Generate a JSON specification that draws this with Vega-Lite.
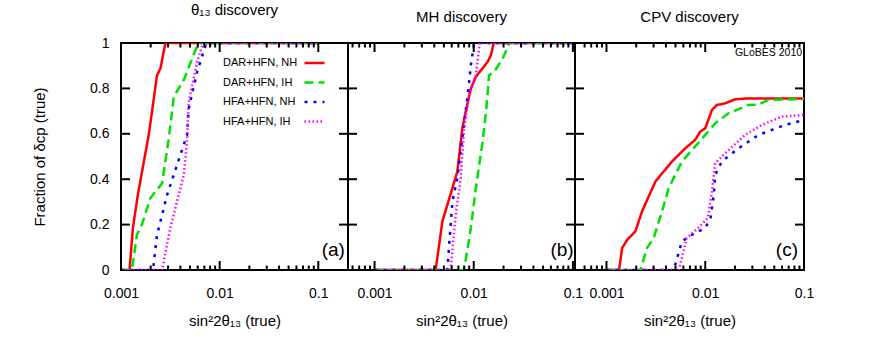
{
  "$schema": "https://vega.github.io/schema/vega-lite/v6.json",
  "padding": {"left": 31, "top": 2, "right": 5, "bottom": 5},
  "bounds": "flush",
  "spacing": 0,
  "config": {
    "font": "Liberation Sans",
    "view": {"stroke": "#000", "strokeWidth": 2},
    "axis": {"grid": false, "domain": false, "ticks": false, "labelFontSize": 14, "titleFontSize": 15, "titleFontWeight": "normal", "labelColor": "#000", "titleColor": "#000", "labelFlush": false, "labelOverlap": false, "labelPadding": 12, "titlePadding": 13},
    "tick": {"color": "#000", "thickness": 2, "opacity": 1},
    "title": {"fontSize": 15, "fontWeight": "normal", "color": "#000", "baseline": "bottom", "offset": 18},
    "legend": {"orient": "none", "legendX": 99, "legendY": 8.5, "labelFontSize": 11, "labelColor": "#000", "symbolType": "stroke", "symbolSize": 400, "symbolStrokeWidth": 2.5, "rowPadding": 2.5, "padding": 0, "labelOffset": -103, "symbolOffset": 83}
  },
  "datasets": {
    "xmaj1": [{"v": 0.001}, {"v": 0.01}, {"v": 0.1}],
    "xmin1": [{"v": 0.002}, {"v": 0.003}, {"v": 0.004}, {"v": 0.005}, {"v": 0.006}, {"v": 0.007}, {"v": 0.008}, {"v": 0.009}, {"v": 0.02}, {"v": 0.03}, {"v": 0.04}, {"v": 0.05}, {"v": 0.06}, {"v": 0.07}, {"v": 0.08}, {"v": 0.09}],
    "xmaj2": [{"v": 0.001}, {"v": 0.01}],
    "xmin2": [{"v": 0.0006}, {"v": 0.0007}, {"v": 0.0008}, {"v": 0.0009}, {"v": 0.002}, {"v": 0.003}, {"v": 0.004}, {"v": 0.005}, {"v": 0.006}, {"v": 0.007}, {"v": 0.008}, {"v": 0.009}, {"v": 0.02}, {"v": 0.03}, {"v": 0.04}, {"v": 0.05}, {"v": 0.06}, {"v": 0.07}, {"v": 0.08}, {"v": 0.09}],
    "yt": [{"v": 0.2}, {"v": 0.4}, {"v": 0.6}, {"v": 0.8}],
    "a": [
      {"s": "DAR+HFN, NH", "x": 0.001, "y": 0}, {"s": "DAR+HFN, NH", "x": 0.00122, "y": 0}, {"s": "DAR+HFN, NH", "x": 0.00132, "y": 0.185}, {"s": "DAR+HFN, NH", "x": 0.00148, "y": 0.33}, {"s": "DAR+HFN, NH", "x": 0.00191, "y": 0.595}, {"s": "DAR+HFN, NH", "x": 0.00232, "y": 0.858}, {"s": "DAR+HFN, NH", "x": 0.00251, "y": 0.888}, {"s": "DAR+HFN, NH", "x": 0.00282, "y": 1}, {"s": "DAR+HFN, NH", "x": 0.1, "y": 1},
      {"s": "DAR+HFN, IH", "x": 0.001, "y": 0}, {"s": "DAR+HFN, IH", "x": 0.00129, "y": 0}, {"s": "DAR+HFN, IH", "x": 0.00145, "y": 0.155}, {"s": "DAR+HFN, IH", "x": 0.00163, "y": 0.2}, {"s": "DAR+HFN, IH", "x": 0.00198, "y": 0.316}, {"s": "DAR+HFN, IH", "x": 0.00261, "y": 0.382}, {"s": "DAR+HFN, IH", "x": 0.00305, "y": 0.58}, {"s": "DAR+HFN, IH", "x": 0.00343, "y": 0.763}, {"s": "DAR+HFN, IH", "x": 0.00433, "y": 0.837}, {"s": "DAR+HFN, IH", "x": 0.00567, "y": 0.968}, {"s": "DAR+HFN, IH", "x": 0.00614, "y": 1}, {"s": "DAR+HFN, IH", "x": 0.1, "y": 1},
      {"s": "HFA+HFN, NH", "x": 0.001, "y": 0}, {"s": "HFA+HFN, NH", "x": 0.00211, "y": 0}, {"s": "HFA+HFN, NH", "x": 0.00232, "y": 0.155}, {"s": "HFA+HFN, NH", "x": 0.00293, "y": 0.33}, {"s": "HFA+HFN, NH", "x": 0.0037, "y": 0.463}, {"s": "HFA+HFN, NH", "x": 0.00467, "y": 0.595}, {"s": "HFA+HFN, NH", "x": 0.00486, "y": 0.712}, {"s": "HFA+HFN, NH", "x": 0.00591, "y": 0.873}, {"s": "HFA+HFN, NH", "x": 0.00734, "y": 1}, {"s": "HFA+HFN, NH", "x": 0.1, "y": 1},
      {"s": "HFA+HFN, IH", "x": 0.001, "y": 0}, {"s": "HFA+HFN, IH", "x": 0.00261, "y": 0}, {"s": "HFA+HFN, IH", "x": 0.00316, "y": 0.185}, {"s": "HFA+HFN, IH", "x": 0.00433, "y": 0.419}, {"s": "HFA+HFN, IH", "x": 0.00467, "y": 0.566}, {"s": "HFA+HFN, IH", "x": 0.00486, "y": 0.741}, {"s": "HFA+HFN, IH", "x": 0.00591, "y": 0.917}, {"s": "HFA+HFN, IH", "x": 0.0068, "y": 1}, {"s": "HFA+HFN, IH", "x": 0.1, "y": 1}
    ],
    "b": [
      {"s": "DAR+HFN, NH", "x": 0.001, "y": 0}, {"s": "DAR+HFN, NH", "x": 0.00413, "y": 0}, {"s": "DAR+HFN, NH", "x": 0.00483, "y": 0.214}, {"s": "DAR+HFN, NH", "x": 0.00609, "y": 0.36}, {"s": "DAR+HFN, NH", "x": 0.00684, "y": 0.434}, {"s": "DAR+HFN, NH", "x": 0.00768, "y": 0.624}, {"s": "DAR+HFN, NH", "x": 0.0083, "y": 0.697}, {"s": "DAR+HFN, NH", "x": 0.00935, "y": 0.8}, {"s": "DAR+HFN, NH", "x": 0.0105, "y": 0.851}, {"s": "DAR+HFN, NH", "x": 0.0138, "y": 0.917}, {"s": "DAR+HFN, NH", "x": 0.0149, "y": 0.946}, {"s": "DAR+HFN, NH", "x": 0.0159, "y": 1}, {"s": "DAR+HFN, NH", "x": 0.1, "y": 1},
      {"s": "DAR+HFN, IH", "x": 0.001, "y": 0}, {"s": "DAR+HFN, IH", "x": 0.008, "y": 0}, {"s": "DAR+HFN, IH", "x": 0.00935, "y": 0.185}, {"s": "DAR+HFN, IH", "x": 0.0105, "y": 0.36}, {"s": "DAR+HFN, IH", "x": 0.0123, "y": 0.566}, {"s": "DAR+HFN, IH", "x": 0.0133, "y": 0.697}, {"s": "DAR+HFN, IH", "x": 0.0143, "y": 0.858}, {"s": "DAR+HFN, IH", "x": 0.0161, "y": 0.873}, {"s": "DAR+HFN, IH", "x": 0.0196, "y": 0.932}, {"s": "DAR+HFN, IH", "x": 0.0229, "y": 1}, {"s": "DAR+HFN, IH", "x": 0.1, "y": 1},
      {"s": "HFA+HFN, NH", "x": 0.001, "y": 0}, {"s": "HFA+HFN, NH", "x": 0.00542, "y": 0}, {"s": "HFA+HFN, NH", "x": 0.00609, "y": 0.302}, {"s": "HFA+HFN, NH", "x": 0.00684, "y": 0.404}, {"s": "HFA+HFN, NH", "x": 0.00768, "y": 0.58}, {"s": "HFA+HFN, NH", "x": 0.00886, "y": 0.8}, {"s": "HFA+HFN, NH", "x": 0.00935, "y": 0.902}, {"s": "HFA+HFN, NH", "x": 0.0101, "y": 1}, {"s": "HFA+HFN, NH", "x": 0.1, "y": 1},
      {"s": "HFA+HFN, IH", "x": 0.001, "y": 0}, {"s": "HFA+HFN, IH", "x": 0.00585, "y": 0}, {"s": "HFA+HFN, IH", "x": 0.00658, "y": 0.243}, {"s": "HFA+HFN, IH", "x": 0.00739, "y": 0.404}, {"s": "HFA+HFN, IH", "x": 0.008, "y": 0.624}, {"s": "HFA+HFN, IH", "x": 0.009, "y": 0.771}, {"s": "HFA+HFN, IH", "x": 0.0105, "y": 0.858}, {"s": "HFA+HFN, IH", "x": 0.0115, "y": 1}, {"s": "HFA+HFN, IH", "x": 0.1, "y": 1}
    ],
    "c": [
      {"s": "DAR+HFN, NH", "x": 0.001, "y": 0}, {"s": "DAR+HFN, NH", "x": 0.00134, "y": 0}, {"s": "DAR+HFN, NH", "x": 0.00144, "y": 0.097}, {"s": "DAR+HFN, NH", "x": 0.00162, "y": 0.133}, {"s": "DAR+HFN, NH", "x": 0.00196, "y": 0.17}, {"s": "DAR+HFN, NH", "x": 0.00229, "y": 0.258}, {"s": "DAR+HFN, NH", "x": 0.00313, "y": 0.39}, {"s": "DAR+HFN, NH", "x": 0.00461, "y": 0.478}, {"s": "DAR+HFN, NH", "x": 0.00627, "y": 0.536}, {"s": "DAR+HFN, NH", "x": 0.0079, "y": 0.573}, {"s": "DAR+HFN, NH", "x": 0.00891, "y": 0.61}, {"s": "DAR+HFN, NH", "x": 0.01, "y": 0.624}, {"s": "DAR+HFN, NH", "x": 0.0117, "y": 0.705}, {"s": "DAR+HFN, NH", "x": 0.0131, "y": 0.727}, {"s": "DAR+HFN, NH", "x": 0.0159, "y": 0.734}, {"s": "DAR+HFN, NH", "x": 0.0201, "y": 0.752}, {"s": "DAR+HFN, NH", "x": 0.0273, "y": 0.756}, {"s": "DAR+HFN, NH", "x": 0.1, "y": 0.756},
      {"s": "DAR+HFN, IH", "x": 0.001, "y": 0}, {"s": "DAR+HFN, IH", "x": 0.00221, "y": 0}, {"s": "DAR+HFN, IH", "x": 0.00257, "y": 0.097}, {"s": "DAR+HFN, IH", "x": 0.003, "y": 0.14}, {"s": "DAR+HFN, IH", "x": 0.00365, "y": 0.258}, {"s": "DAR+HFN, IH", "x": 0.00426, "y": 0.36}, {"s": "DAR+HFN, IH", "x": 0.0058, "y": 0.478}, {"s": "DAR+HFN, IH", "x": 0.0079, "y": 0.544}, {"s": "DAR+HFN, IH", "x": 0.01, "y": 0.595}, {"s": "DAR+HFN, IH", "x": 0.0126, "y": 0.646}, {"s": "DAR+HFN, IH", "x": 0.0172, "y": 0.69}, {"s": "DAR+HFN, IH", "x": 0.0273, "y": 0.727}, {"s": "DAR+HFN, IH", "x": 0.0346, "y": 0.729}, {"s": "DAR+HFN, IH", "x": 0.0436, "y": 0.749}, {"s": "DAR+HFN, IH", "x": 0.1, "y": 0.753},
      {"s": "HFA+HFN, NH", "x": 0.001, "y": 0}, {"s": "HFA+HFN, NH", "x": 0.0048, "y": 0}, {"s": "HFA+HFN, NH", "x": 0.0058, "y": 0.126}, {"s": "HFA+HFN, NH", "x": 0.0073, "y": 0.155}, {"s": "HFA+HFN, NH", "x": 0.01, "y": 0.185}, {"s": "HFA+HFN, NH", "x": 0.0113, "y": 0.229}, {"s": "HFA+HFN, NH", "x": 0.0122, "y": 0.331}, {"s": "HFA+HFN, NH", "x": 0.0126, "y": 0.419}, {"s": "HFA+HFN, NH", "x": 0.0147, "y": 0.478}, {"s": "HFA+HFN, NH", "x": 0.0217, "y": 0.536}, {"s": "HFA+HFN, NH", "x": 0.0346, "y": 0.595}, {"s": "HFA+HFN, NH", "x": 0.0643, "y": 0.639}, {"s": "HFA+HFN, NH", "x": 0.1, "y": 0.661},
      {"s": "HFA+HFN, IH", "x": 0.001, "y": 0}, {"s": "HFA+HFN, IH", "x": 0.0054, "y": 0}, {"s": "HFA+HFN, IH", "x": 0.0065, "y": 0.14}, {"s": "HFA+HFN, IH", "x": 0.0085, "y": 0.185}, {"s": "HFA+HFN, IH", "x": 0.0106, "y": 0.229}, {"s": "HFA+HFN, IH", "x": 0.0117, "y": 0.346}, {"s": "HFA+HFN, IH", "x": 0.0126, "y": 0.47}, {"s": "HFA+HFN, IH", "x": 0.0159, "y": 0.514}, {"s": "HFA+HFN, IH", "x": 0.0253, "y": 0.595}, {"s": "HFA+HFN, IH", "x": 0.0374, "y": 0.639}, {"s": "HFA+HFN, IH", "x": 0.0596, "y": 0.676}, {"s": "HFA+HFN, IH", "x": 0.1, "y": 0.683}
    ]
  },
  "hconcat": [
    {
      "width": 227, "height": 227,
      "title": "θ₁₃ discovery",
      "resolve": {"axis": {"x": "independent", "y": "independent"}},
      "layer": [
        {"data": {"name": "a"},
         "mark": {"type": "line", "strokeWidth": 2.5, "clip": true},
         "encoding": {
           "x": {"field": "x", "type": "quantitative", "scale": {"type": "log", "domain": [0.001, 0.2], "nice": false}, "axis": {"orient": "bottom", "values": [0.001, 0.01, 0.1], "format": "~g", "labelPadding": 16, "title": "sin²2θ₁₃ (true)"}},
           "y": {"field": "y", "type": "quantitative", "scale": {"domain": [0, 1], "nice": false}, "axis": {"orient": "left", "values": [0, 0.2, 0.4, 0.6, 0.8, 1], "format": "~g", "labelPadding": 12, "titlePadding": 42, "title": "Fraction of δcp (true)"}},
           "color": {"field": "s", "type": "nominal", "scale": {"domain": ["DAR+HFN, NH", "DAR+HFN, IH", "HFA+HFN, NH", "HFA+HFN, IH"], "range": ["#ff0000", "#00e000", "#0000ff", "#ff00ff"]}, "legend": {"title": null}},
           "strokeDash": {"field": "s", "type": "nominal", "scale": {"domain": ["DAR+HFN, NH", "DAR+HFN, IH", "HFA+HFN, NH", "HFA+HFN, IH"], "range": [[1, 0], [9, 5], [3, 6], [1.5, 2.5]]}, "legend": {"title": null}}
         }},
        {"data": {"name": "xmaj1"}, "mark": {"type": "tick", "orient": "vertical", "size": 9},
         "encoding": {"x": {"field": "v", "type": "quantitative", "axis": null}, "y": {"datum": 0.0198, "type": "quantitative", "axis": null}}},
        {"data": {"name": "xmaj1"}, "mark": {"type": "tick", "orient": "vertical", "size": 9},
         "encoding": {"x": {"field": "v", "type": "quantitative", "axis": null}, "y": {"datum": 0.9802, "type": "quantitative", "axis": null}}},
        {"data": {"name": "xmin1"}, "mark": {"type": "tick", "orient": "vertical", "size": 4.5},
         "encoding": {"x": {"field": "v", "type": "quantitative", "axis": null}, "y": {"datum": 0.0099, "type": "quantitative", "axis": null}}},
        {"data": {"name": "xmin1"}, "mark": {"type": "tick", "orient": "vertical", "size": 4.5},
         "encoding": {"x": {"field": "v", "type": "quantitative", "axis": null}, "y": {"datum": 0.9901, "type": "quantitative", "axis": null}}},
        {"data": {"name": "yt"}, "mark": {"type": "tick", "orient": "horizontal", "size": 9},
         "encoding": {"y": {"field": "v", "type": "quantitative", "axis": null}, "x": {"datum": 0.0011107, "type": "quantitative", "axis": null}}},
        {"data": {"name": "yt"}, "mark": {"type": "tick", "orient": "horizontal", "size": 9},
         "encoding": {"y": {"field": "v", "type": "quantitative", "axis": null}, "x": {"datum": 0.18007, "type": "quantitative", "axis": null}}},
        {"data": {"values": [{"t": "(a)"}]},
         "mark": {"type": "text", "fontSize": 19, "color": "#000", "align": "center", "baseline": "middle"},
         "encoding": {
           "x": {"datum": 0.142, "type": "quantitative", "axis": null},
           "y": {"datum": 0.088, "type": "quantitative", "axis": null},
           "text": {"field": "t"}
         }}
      ]
    },
    {
      "width": 227, "height": 227,
      "title": "MH discovery",
      "resolve": {"axis": {"x": "independent", "y": "independent"}},
      "layer": [
        {"data": {"name": "b"},
         "mark": {"type": "line", "strokeWidth": 2.5, "clip": true},
         "encoding": {
           "x": {"field": "x", "type": "quantitative", "scale": {"type": "log", "domain": [0.00054, 0.105], "nice": false}, "axis": {"orient": "bottom", "values": [0.001, 0.01, 0.1], "format": "~g", "labelPadding": 16, "title": "sin²2θ₁₃ (true)"}},
           "y": {"field": "y", "type": "quantitative", "scale": {"domain": [0, 1], "nice": false}, "axis": null},
           "color": {"field": "s", "type": "nominal", "scale": {"domain": ["DAR+HFN, NH", "DAR+HFN, IH", "HFA+HFN, NH", "HFA+HFN, IH"], "range": ["#ff0000", "#00e000", "#0000ff", "#ff00ff"]}, "legend": {"title": null}},
           "strokeDash": {"field": "s", "type": "nominal", "scale": {"domain": ["DAR+HFN, NH", "DAR+HFN, IH", "HFA+HFN, NH", "HFA+HFN, IH"], "range": [[1, 0], [9, 5], [3, 6], [1.5, 2.5]]}, "legend": {"title": null}}
         }},
        {"data": {"name": "xmaj1"}, "mark": {"type": "tick", "orient": "vertical", "size": 9},
         "encoding": {"x": {"field": "v", "type": "quantitative", "axis": null}, "y": {"datum": 0.0198, "type": "quantitative", "axis": null}}},
        {"data": {"name": "xmaj1"}, "mark": {"type": "tick", "orient": "vertical", "size": 9},
         "encoding": {"x": {"field": "v", "type": "quantitative", "axis": null}, "y": {"datum": 0.9802, "type": "quantitative", "axis": null}}},
        {"data": {"name": "xmin2"}, "mark": {"type": "tick", "orient": "vertical", "size": 4.5},
         "encoding": {"x": {"field": "v", "type": "quantitative", "axis": null}, "y": {"datum": 0.0099, "type": "quantitative", "axis": null}}},
        {"data": {"name": "xmin2"}, "mark": {"type": "tick", "orient": "vertical", "size": 4.5},
         "encoding": {"x": {"field": "v", "type": "quantitative", "axis": null}, "y": {"datum": 0.9901, "type": "quantitative", "axis": null}}},
        {"data": {"name": "yt"}, "mark": {"type": "tick", "orient": "horizontal", "size": 9},
         "encoding": {"y": {"field": "v", "type": "quantitative", "axis": null}, "x": {"datum": 0.0005994, "type": "quantitative", "axis": null}}},
        {"data": {"name": "yt"}, "mark": {"type": "tick", "orient": "horizontal", "size": 9},
         "encoding": {"y": {"field": "v", "type": "quantitative", "axis": null}, "x": {"datum": 0.09459, "type": "quantitative", "axis": null}}},
        {"data": {"values": [{"t": "(b)"}]},
         "mark": {"type": "text", "fontSize": 19, "color": "#000", "align": "center", "baseline": "middle"},
         "encoding": {
           "x": {"datum": 0.0777, "type": "quantitative", "axis": null},
           "y": {"datum": 0.088, "type": "quantitative", "axis": null},
           "text": {"field": "t"}
         }}
      ]
    },
    {
      "width": 229, "height": 227,
      "title": "CPV discovery",
      "resolve": {"axis": {"x": "independent", "y": "independent"}},
      "layer": [
        {"data": {"name": "c"},
         "mark": {"type": "line", "strokeWidth": 2.5, "clip": true},
         "encoding": {
           "x": {"field": "x", "type": "quantitative", "scale": {"type": "log", "domain": [0.00048, 0.1], "nice": false}, "axis": {"orient": "bottom", "values": [0.001, 0.01, 0.1], "format": "~g", "labelPadding": 16, "title": "sin²2θ₁₃ (true)"}},
           "y": {"field": "y", "type": "quantitative", "scale": {"domain": [0, 1], "nice": false}, "axis": null},
           "color": {"field": "s", "type": "nominal", "scale": {"domain": ["DAR+HFN, NH", "DAR+HFN, IH", "HFA+HFN, NH", "HFA+HFN, IH"], "range": ["#ff0000", "#00e000", "#0000ff", "#ff00ff"]}, "legend": {"title": null}},
           "strokeDash": {"field": "s", "type": "nominal", "scale": {"domain": ["DAR+HFN, NH", "DAR+HFN, IH", "HFA+HFN, NH", "HFA+HFN, IH"], "range": [[1, 0], [9, 5], [3, 6], [1.5, 2.5]]}, "legend": {"title": null}}
         }},
        {"data": {"name": "xmaj2"}, "mark": {"type": "tick", "orient": "vertical", "size": 9},
         "encoding": {"x": {"field": "v", "type": "quantitative", "axis": null}, "y": {"datum": 0.0198, "type": "quantitative", "axis": null}}},
        {"data": {"name": "xmaj2"}, "mark": {"type": "tick", "orient": "vertical", "size": 9},
         "encoding": {"x": {"field": "v", "type": "quantitative", "axis": null}, "y": {"datum": 0.9802, "type": "quantitative", "axis": null}}},
        {"data": {"name": "xmin2"}, "mark": {"type": "tick", "orient": "vertical", "size": 4.5},
         "encoding": {"x": {"field": "v", "type": "quantitative", "axis": null}, "y": {"datum": 0.0099, "type": "quantitative", "axis": null}}},
        {"data": {"name": "xmin2"}, "mark": {"type": "tick", "orient": "vertical", "size": 4.5},
         "encoding": {"x": {"field": "v", "type": "quantitative", "axis": null}, "y": {"datum": 0.9901, "type": "quantitative", "axis": null}}},
        {"data": {"name": "yt"}, "mark": {"type": "tick", "orient": "horizontal", "size": 9},
         "encoding": {"y": {"field": "v", "type": "quantitative", "axis": null}, "x": {"datum": 0.0005331, "type": "quantitative", "axis": null}}},
        {"data": {"name": "yt"}, "mark": {"type": "tick", "orient": "horizontal", "size": 9},
         "encoding": {"y": {"field": "v", "type": "quantitative", "axis": null}, "x": {"datum": 0.09004, "type": "quantitative", "axis": null}}},
        {"data": {"values": [{"t": "(c)"}]},
         "mark": {"type": "text", "fontSize": 19, "color": "#000", "align": "center", "baseline": "middle"},
         "encoding": {
           "x": {"datum": 0.0672, "type": "quantitative", "axis": null},
           "y": {"datum": 0.088, "type": "quantitative", "axis": null},
           "text": {"field": "t"}
         }},
        {"data": {"values": [{"t": "GLoBES 2010"}]},
         "mark": {"type": "text", "fontSize": 10.5, "color": "#000", "align": "right", "baseline": "middle"},
         "encoding": {
           "x": {"datum": 0.0956, "type": "quantitative", "axis": null},
           "y": {"datum": 0.958, "type": "quantitative", "axis": null},
           "text": {"field": "t"}
         }}
      ]
    }
  ]
}
